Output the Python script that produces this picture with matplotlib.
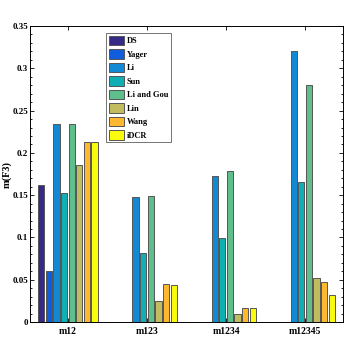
import numpy as np
import matplotlib
matplotlib.use("Agg")
import matplotlib.pyplot as plt
from matplotlib.ticker import MultipleLocator

plt.rcParams['font.family'] = ['Liberation Serif', 'DejaVu Serif']

groups = ['m12', 'm123', 'm1234', 'm12345']
methods = ['DS', 'Yager', 'Li', 'Sun', 'Li and Gou', 'Lin', 'Wang', 'iDCR']
colors = ['#352a87', '#0f5cdd', '#1289d5', '#0fafb4', '#5ebf8c', '#c0bc5f', '#fdb830', '#f9fa0e']

ds = [0.162, 0, 0, 0]
yager = [0.060, 0, 0, 0]
li = [0.234, 0.148, 0.173, 0.320]
sun = [0.153, 0.081, 0.099, 0.166]
li_gou = [0.234, 0.149, 0.178, 0.280]
lin = [0.186, 0.025, 0.009, 0.052]
wang = [0.213, 0.045, 0.017, 0.047]
idcr = [0.213, 0.044, 0.016, 0.032]
series = [ds, yager, li, sun, li_gou, lin, wang, idcr]

fig = plt.figure(figsize=(3.49, 3.49), dpi=100)
ax = fig.add_axes([0.086, 0.0774, 0.897, 0.848])

x = np.arange(1, len(groups) + 1)
slot = 0.77 / len(methods)
for i, (vals, name, c) in enumerate(zip(series, methods, colors)):
    off = (i - (len(methods) - 1) / 2) * slot
    ax.bar(x + off, vals, width=slot * 0.82, color=c, edgecolor='#555555',
           linewidth=0.7, label=name)

ax.set_xlim(0.52, 4.48)
ax.set_ylim(0, 0.35)
ax.set_xticks(x)
ax.set_xticklabels(groups, fontsize=7, fontweight='bold')
ax.yaxis.set_minor_locator(MultipleLocator(0.01))
ax.set_yticks(np.arange(0, 0.351, 0.05))
ax.set_yticklabels(['0', '0.05', '0.1', '0.15', '0.2', '0.25', '0.3', '0.35'],
                   fontsize=6.5, fontweight='bold')
ax.tick_params(which='both', direction='in', top=True, right=True, length=3, width=0.6)
ax.tick_params(axis='y', pad=1.5)
ax.tick_params(which='minor', length=1.5)
ax.tick_params(axis='x', which='minor', bottom=False, top=False)
ax.set_ylabel('m(F3)', fontsize=7.5, fontweight='bold')
ax.yaxis.set_label_coords(-0.058, 0.5)
for s in ax.spines.values():
    s.set_linewidth(0.7)

leg = ax.legend(loc='upper left', bbox_to_anchor=(0.243, 0.975),
                prop={'weight': 'bold', 'size': 6}, fancybox=False, edgecolor='#333333',
                handlelength=1.9, handleheight=1.3, labelspacing=0.5,
                handletextpad=0.3, borderpad=0.3, borderaxespad=0)
leg.get_frame().set_linewidth(0.6)

fig.savefig('out.png', dpi=100, facecolor='white')
